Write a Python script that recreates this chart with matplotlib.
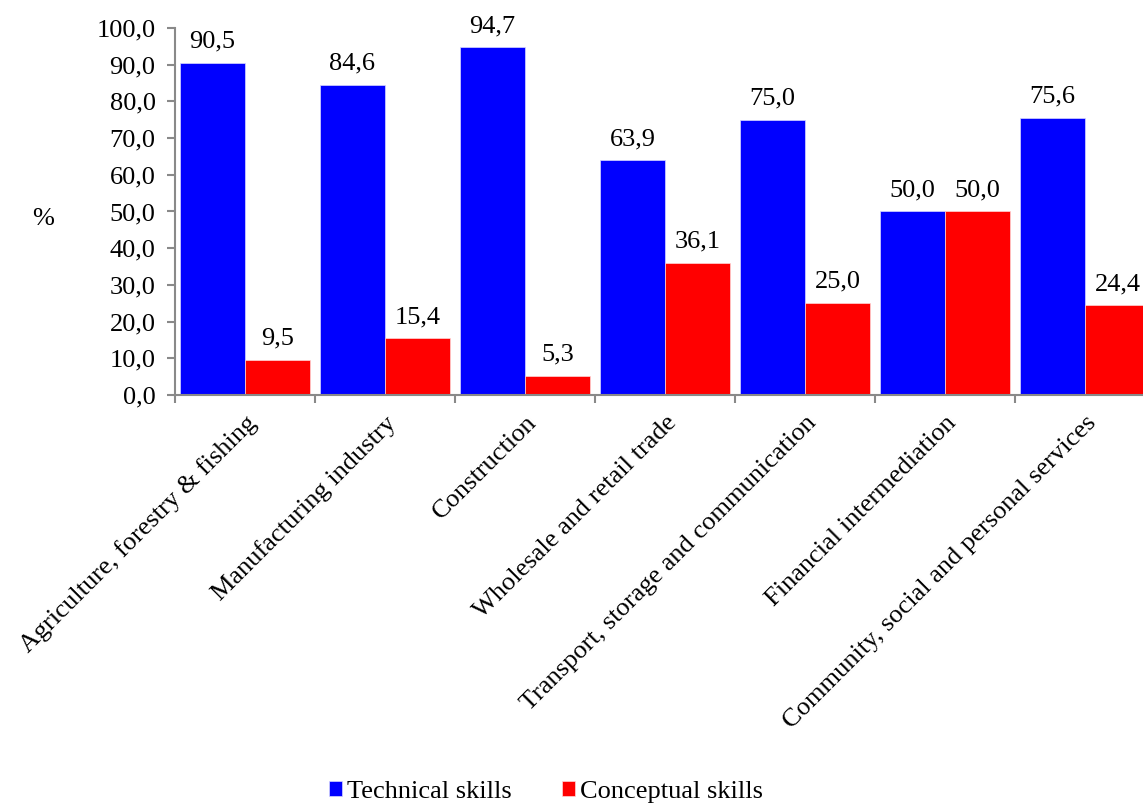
import numpy as np
import matplotlib.pyplot as plt

# Share of skill types by sector (%)
CATEGORIES = ["Agriculture, forestry & fishing", "Manufacturing industry",
              "Construction", "Wholesale and retail trade",
              "Transport, storage and communication",
              "Financial intermediation",
              "Community, social and personal services"]
TECHNICAL = [90.5, 84.6, 94.7, 63.9, 75.0, 50.0, 75.6]
CONCEPTUAL = [9.5, 15.4, 5.3, 36.1, 25.0, 50.0, 24.4]
SERIES_NAMES = ["Technical skills", "Conceptual skills"]

plt.rcParams['font.family'] = ['Liberation Serif', 'DejaVu Serif']
FS = 19
GREY = '#898989'

fig = plt.figure(figsize=(11.43, 8.05), dpi=100)
W, H = 1143.0, 805.0
ax = fig.add_axes([175 / W, (H - 395) / H, 980 / W, 367 / H])

x = np.arange(len(CATEGORIES))
bw = 65 / 140.0
b1 = ax.bar(x - bw / 2, TECHNICAL, bw, color='#0000FF', edgecolor='#D8D8FF',
            linewidth=0.5, label=SERIES_NAMES[0])
b2 = ax.bar(x + bw / 2, CONCEPTUAL, bw, color='#FF0000', edgecolor='#FFD8D8',
            linewidth=0.5, label=SERIES_NAMES[1])

for bars in (b1, b2):
    for r in bars:
        v = r.get_height()
        ax.annotate(("%.1f" % v).replace('.', ','),
                    (r.get_x() + r.get_width() / 2, v),
                    xytext=(0, 7.5), textcoords='offset points',
                    ha='center', va='bottom', fontsize=FS)

ax.set_xlim(-0.5, len(CATEGORIES) - 0.5)
ax.set_ylim(0, 100)
ax.set_yticks(np.arange(0, 101, 10))
ax.set_yticklabels([("%.1f" % v).replace('.', ',') for v in np.arange(0, 101, 10)],
                   fontsize=FS)

ax.set_xticks(np.arange(-0.5, len(CATEGORIES), 1.0))
ax.set_xticklabels([])
ax.set_xticks(x, minor=True)
ax.set_xticklabels(CATEGORIES, minor=True, rotation=45, ha='right',
                   rotation_mode='anchor', fontsize=FS)
ax.tick_params(axis='x', which='minor', length=0, pad=12)
ax.tick_params(axis='x', which='major', length=6, color=GREY, width=1.5)
ax.tick_params(axis='y', length=6, color=GREY, width=1.5, pad=8)

for s in ('top', 'right'):
    ax.spines[s].set_visible(False)
for s in ('left', 'bottom'):
    ax.spines[s].set_color(GREY)
    ax.spines[s].set_linewidth(1.5)

ax.set_ylabel('%', rotation=0, fontsize=FS)
ax.yaxis.set_label_coords(-0.135, 0.45)

fig.legend(handles=[b1, b2], loc='center', bbox_to_anchor=(546 / W, (H - 792) / H),
           ncol=2, frameon=False, fontsize=FS, handlelength=0.5, handleheight=0.5,
           handletextpad=0.2, columnspacing=1.9)

fig.savefig('out.png', dpi=100)
